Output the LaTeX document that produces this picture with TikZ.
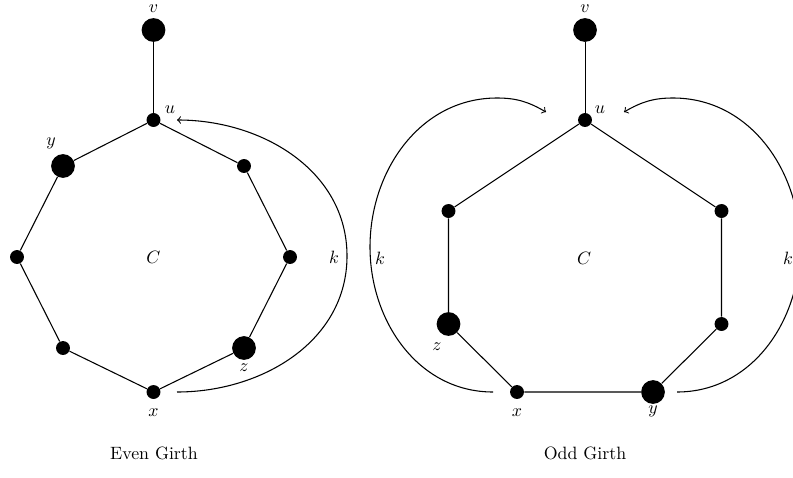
\documentclass[tikz,border=0pt]{standalone}
\usepackage{amsmath}
\usepackage{tikz}

\begin{document}
\begin{tikzpicture}[x=0.197cm, y=0.197cm,
  vert/.style={circle, fill=black, inner sep=0pt, minimum size=7.8pt},
  bigvert/.style={circle, fill=black, inner sep=0pt, minimum size=13.3pt},
  edge/.style={semithick}]
  \useasboundingbox (0,0) rectangle (79.3,47.7);

  % Even girth
  \node[bigvert] (ev) at (15.35,44.7) {};
  \node[vert] (eu) at (15.35,35.7) {};
  \node[bigvert] (ey) at (6.3,31.1) {};
  \node[vert] (ea) at (24.4,31.1) {};
  \node[vert] (eb) at (1.7,22.0) {};
  \node[vert] (ec) at (29.0,22.0) {};
  \node[vert] (ed) at (6.3,12.9) {};
  \node[bigvert] (ez) at (24.4,12.9) {};
  \node[vert] (ex) at (15.35,8.5) {};
  \draw[thick] (ev) -- (eu);
  \draw[edge] (eu) -- (ey) -- (eb) -- (ed) -- (ex) -- (ez) -- (ec) -- (ea) -- (eu);
  \node[inner sep=0.5pt] (elv) at (15.35,46.8) {$v$};
  \node (elu) at (17.0,36.7) {$u$};
  \node (ely) at (5.1,33.4) {$y$};
  \node (elz) at (24.4,10.9) {$z$};
  \node (elx) at (15.35,6.4) {$x$};
  \node (eC) at (15.35,22.0) {$C$};
  \node (elk) at (33.4,22.0) {$k$};
  \coordinate (ekx) at (17.7,8.5);
  \coordinate (ekm) at (34.7,22.1);
  \coordinate (eku) at (17.7,35.7);
  \draw[edge,->] (ekx) to[out=0,in=-90] (ekm) to[out=90,in=0] (eku);
  \node (etitle) at (15.4,2.4) {Even Girth};

  % Odd girth
  \node[bigvert] (ov) at (58.5,44.7) {};
  \node[vert] (ou) at (58.5,35.7) {};
  \node[vert] (oa) at (44.85,26.6) {};
  \node[vert] (ob) at (72.15,26.6) {};
  \node[bigvert] (oz) at (44.85,15.3) {};
  \node[vert] (oc) at (72.15,15.3) {};
  \node[vert] (ox) at (51.7,8.5) {};
  \node[bigvert] (oy) at (65.3,8.5) {};
  \draw[thin] (ov) -- (ou);
  \draw[edge] (ou) -- (oa) -- (oz) -- (ox) -- (oy) -- (oc) -- (ob) -- (ou);
  \node[inner sep=0.5pt] (olv) at (58.5,46.8) {$v$};
  \node (olu) at (60.0,36.7) {$u$};
  \node (olz) at (43.7,13.0) {$z$};
  \node (olx) at (51.7,6.4) {$x$};
  \node (oly) at (65.3,6.6) {$y$};
  \node (oC) at (58.4,21.9) {$C$};
  \node (olk) at (38.0,21.9) {$k$};
  \node (ork) at (78.8,21.9) {$k$};
  \coordinate (olx1) at (49.3,8.5);
  \coordinate (olm) at (37.0,23.0);
  \coordinate (olt) at (49.7,37.9);
  \coordinate (olu1) at (54.6,36.5);
  \draw[edge,->] (olx1) to[out=180,in=-90] (olm) to[out=90,in=180] (olt) to[out=0,in=150] (olu1);
  \coordinate (ory1) at (67.7,8.5);
  \coordinate (orm) at (80.0,23.0);
  \coordinate (ort) at (67.3,37.9);
  \coordinate (oru1) at (62.4,36.5);
  \draw[edge,->] (ory1) to[out=0,in=-90] (orm) to[out=90,in=0] (ort) to[out=180,in=30] (oru1);
  \node (otitle) at (58.5,2.4) {Odd Girth};
\end{tikzpicture}
\end{document}
